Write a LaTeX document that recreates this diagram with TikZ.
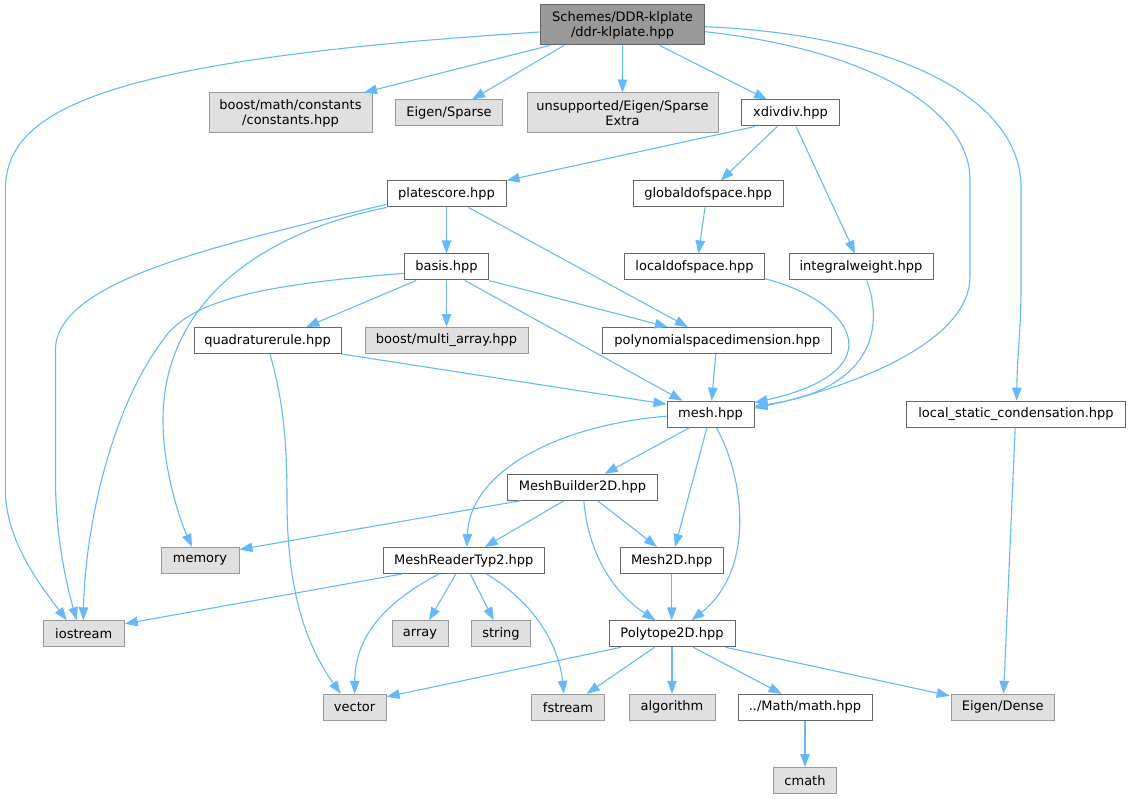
\documentclass[tikz,border=0pt]{standalone}
\usepackage{fontspec}
\setmainfont{DejaVu Sans}
\usetikzlibrary{arrows.meta}
\definecolor{edgec}{HTML}{63B8FF}
\definecolor{bordw}{HTML}{666666}
\definecolor{bordg}{HTML}{999999}
\definecolor{fillg}{HTML}{E0E0E0}
\definecolor{fillr}{HTML}{999999}
\tikzset{
 box/.style={draw, line width=1pt, inner sep=0pt, minimum height=26pt, font=\fontsize{13}{15}\selectfont, align=center, text=black},
 wbox/.style={box, draw=bordw, fill=white},
 gbox/.style={box, draw=bordg, fill=fillg},
 rbox/.style={box, draw=bordw, fill=fillr, minimum height=40pt},
 edge/.style={draw=edgec, line width=1.1pt, -{Triangle[length=13pt,width=9.5pt]}}
}
\begin{document}
\begin{tikzpicture}[x=1pt,y=-1pt]
\useasboundingbox (0,0) rectangle (1131,799);
% nodes
\node[rbox, minimum width=164pt] (root) at (622.6,25) {Schemes/DDR-klplate\\/ddr-klplate.hpp};
\node[gbox, minimum width=163pt, minimum height=40pt] (bmc) at (290.5,113) {boost/math/constants\\/constants.hpp};
\node[gbox, minimum width=107pt] (esp) at (449,113) {Eigen/Sparse};
\node[gbox, minimum width=191pt, minimum height=40pt] (uns) at (622.5,113) {unsupported/Eigen/Sparse\\Extra};
\node[wbox, minimum width=98pt] (xdv) at (790.5,113) {xdivdiv.hpp};
\node[wbox, minimum width=119pt] (pls) at (446.5,194) {platescore.hpp};
\node[wbox, minimum width=150pt] (gds) at (708,194) {globaldofspace.hpp};
\node[wbox, minimum width=84pt] (bas) at (446.5,267) {basis.hpp};
\node[wbox, minimum width=140pt] (lds) at (694.5,267) {localdofspace.hpp};
\node[wbox, minimum width=144pt] (iw) at (861,267) {integralweight.hpp};
\node[wbox, minimum width=147pt] (qr) at (267.5,340.5) {quadraturerule.hpp};
\node[gbox, minimum width=163pt] (bma) at (446.5,340.5) {boost/multi\_array.hpp};
\node[wbox, minimum width=229pt] (psd) at (717.3,340.5) {polynomialspacedimension.hpp};
\node[wbox, minimum width=87pt] (msh) at (710.5,414.2) {mesh.hpp};
\node[wbox, minimum width=219pt] (lsc) at (1016,414.2) {local\_static\_condensation.hpp};
\node[wbox, minimum width=150pt] (mb) at (582.5,487.2) {MeshBuilder2D.hpp};
\node[gbox, minimum width=78pt] (mem) at (200,560.5) {memory};
\node[wbox, minimum width=161pt] (mrt) at (463.8,560.5) {MeshReaderTyp2.hpp};
\node[wbox, minimum width=103pt] (m2d) at (671.7,560.5) {Mesh2D.hpp};
\node[gbox, minimum width=81pt] (ios) at (83.8,633.8) {iostream};
\node[gbox, minimum width=56pt] (arr) at (420,633.8) {array};
\node[gbox, minimum width=59pt] (str) at (501,633.8) {string};
\node[wbox, minimum width=126pt] (p2d) at (672,633.8) {Polytope2D.hpp};
\node[gbox, minimum width=63pt] (vec) at (354.6,707.3) {vector};
\node[gbox, minimum width=73pt] (fst) at (568,707.3) {fstream};
\node[gbox, minimum width=86pt] (alg) at (672,707.3) {algorithm};
\node[wbox, minimum width=134pt] (mth) at (805,707.3) {../Math/math.hpp};
\node[gbox, minimum width=103pt] (ed) at (1002.7,707.3) {Eigen/Dense};
\node[gbox, minimum width=63pt] (cm) at (805,780.5) {cmath};
% edges
\draw[edge] ([yshift=-7pt]root.west) .. controls (100,60) and (5.4,110) .. (5.4,190) -- (5.4,490) .. controls (5.4,540) and (40,585) .. ([xshift=-17pt]ios.north);
\draw[edge] ([xshift=-73pt]root.south) -- ([xshift=73.5pt]bmc.north);
\draw[edge] ([xshift=-58.6pt]root.south) -- ([xshift=23pt]esp.north);
\draw[edge] (root.south) -- (uns.north);
\draw[edge] ([xshift=37pt]root.south) -- ([xshift=-23.5pt]xdv.north);
\draw[edge] ([yshift=-6.7pt]root.east) .. controls (870,50) and (970,110) .. (970,180) -- (970,276.7) .. controls (970,340) and (860,385) .. ([yshift=6pt]msh.east);
\draw[edge] ([yshift=-1.7pt]root.east) .. controls (900,35) and (1021,100) .. (1021,187) -- (1021,287) .. controls (1021,330) and (1017,360) .. ([xshift=0.7pt]lsc.north);
\draw[edge] ([xshift=-35.5pt]xdv.south) -- ([xshift=60pt]pls.north);
\draw[edge] ([xshift=-13.2pt]xdv.south) -- ([xshift=12.7pt]gds.north);
\draw[edge] ([xshift=5.5pt]xdv.south) -- ([xshift=-6pt]iw.north);
\draw[edge] ([xshift=-3pt]gds.south) -- ([xshift=4pt]lds.north);
\draw[edge] ([yshift=1.7pt]lds.south east) .. controls (850,300) and (900,370) .. ([yshift=11.5pt]msh.east);
\draw[edge] ([xshift=5.7pt]iw.south) .. controls (885,330) and (870,390) .. ([yshift=8pt]msh.east);
\draw[edge] ([xshift=-1.6pt]psd.south) -- ([xshift=1.2pt]msh.north);
\draw[edge] ([yshift=-10.3pt]pls.west) .. controls (220,245) and (55.5,280) .. (55.5,350) -- (55.5,480) .. controls (55.5,540) and (68,590) .. ([xshift=-7pt]ios.north);
\draw[edge] (pls.south west) .. controls (250,235) and (163,310) .. (163,420) .. controls (163,470) and (180,520) .. ([xshift=-8pt]mem.north);
\draw[edge] (pls.south) -- (bas.north);
\draw[edge] ([xshift=22pt]pls.south) -- ([xshift=-29.5pt]psd.north);
\draw[edge] ([yshift=-6.3pt]bas.west) .. controls (260,285) and (190,300) .. (163,340) .. controls (110,410) and (85,530) .. ([xshift=-0.5pt]ios.north);
\draw[edge] ([xshift=-30.3pt]bas.south) -- ([xshift=38.8pt]qr.north);
\draw[edge] (bas.south) -- (bma.north);
\draw[edge] (bas.south east) -- ([xshift=-49.4pt]psd.north);
\draw[edge] ([xshift=18.4pt]bas.south) -- ([xshift=-28pt]msh.north);
\draw[edge] ([xshift=2.5pt]qr.south) .. controls (283,400) and (287,440) .. (287,500) .. controls (287,600) and (310,650) .. ([xshift=-14pt]vec.north);
\draw[edge] (qr.south east) -- ([yshift=10pt]msh.west);
\draw[edge] ([yshift=-2pt]msh.west) .. controls (560,425) and (470,470) .. ([xshift=3pt]mrt.north);
\draw[edge] ([xshift=-21pt]msh.south) -- ([xshift=22.2pt]mb.north);
\draw[edge] ([xshift=-3.6pt]msh.south) -- ([xshift=3.3pt]m2d.north);
\draw[edge] ([xshift=6pt]msh.south) .. controls (745,480) and (755,570) .. ([xshift=19.5pt]p2d.north);
\draw[edge] ([xshift=-61.8pt]mb.south) -- ([yshift=11pt]mem.east);
\draw[edge] ([xshift=-18.5pt]mb.south) -- ([xshift=21pt]mrt.north);
\draw[edge] ([xshift=15pt]mb.south) -- ([xshift=-14.7pt]m2d.north);
\draw[edge] ([xshift=1.3pt]mb.south) .. controls (588,550) and (610,590) .. ([xshift=-16.7pt]p2d.north);
\draw[edge] (m2d.south) -- (m2d.south |- p2d.north);
\draw[edge] ([xshift=-62pt]mrt.south) -- ([yshift=10pt]ios.east);
\draw[edge] ([xshift=-25pt]mrt.south) .. controls (380,605) and (355,640) .. (vec.north);
\draw[edge] ([xshift=-8pt]mrt.south) -- ([xshift=9pt]arr.north);
\draw[edge] ([xshift=6.5pt]mrt.south) -- ([xshift=-7.3pt]str.north);
\draw[edge] ([xshift=22.7pt]mrt.south) .. controls (530,600) and (558,640) .. ([xshift=-4pt]fst.north);
\draw[edge] ([xshift=-51pt]p2d.south) -- ([yshift=10.5pt]vec.east);
\draw[edge] ([xshift=-17.5pt]p2d.south) -- ([xshift=18.7pt]fst.north);
\draw[edge] (p2d.south) -- (alg.north);
\draw[edge] ([xshift=21.2pt]p2d.south) -- ([xshift=-23.4pt]mth.north);
\draw[edge] ([xshift=53.6pt]p2d.south) -- ([xshift=-1pt,yshift=-2pt]ed.north west);
\draw[edge] (mth.south) -- (cm.north);
\draw[edge] ([xshift=-0.8pt]lsc.south) -- ([xshift=0.9pt]ed.north);
\end{tikzpicture}
\end{document}
